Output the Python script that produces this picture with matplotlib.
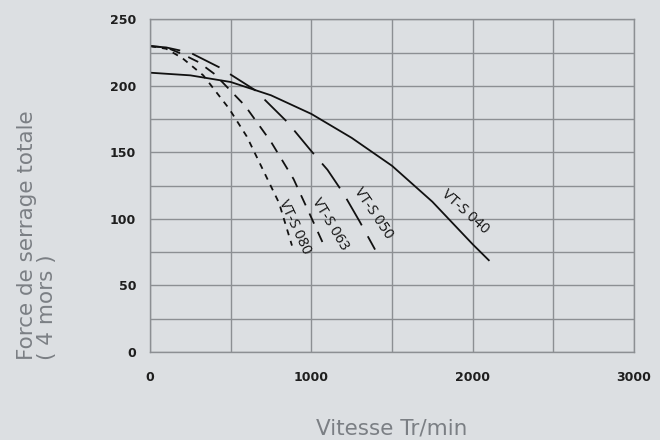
import matplotlib
matplotlib.use("Agg")
import matplotlib.pyplot as plt

# courbes (vitesse tr/min, force)
x_040 = [0, 250, 500, 750, 1000, 1250, 1500, 1750, 2000, 2100]
y_040 = [210, 208, 203, 193, 179, 161, 140, 113, 81, 69]

x_050 = [0, 100, 250, 430, 650, 850, 1000, 1100, 1200, 1300, 1395]
y_050 = [230, 229, 225, 214, 197, 173, 151, 137, 119, 98, 77]

x_063 = [0, 100, 200, 300, 400, 590, 750, 890, 1000, 1075]
y_063 = [230, 229, 224, 218, 209, 185, 158, 130, 101, 81]

x_080 = [0, 100, 200, 330, 490, 600, 760, 800, 880]
y_080 = [230, 228, 221, 208, 183, 162, 122, 112, 80]

labels = ["VT-S 040", "VT-S 050", "VT-S 063", "VT-S 080"]
label_pos = [(1951, 105), (1384, 104), (1117, 96), (895, 94)]
label_rot = [-42, -56, -59, -65]

bg = "#dcdfe2"
grid_col = "#8c8f93"
txt_col = "#7b7f84"

plt.rcParams["lines.scale_dashes"] = False

fig = plt.figure(figsize=(6.6, 4.4), dpi=100, facecolor=bg)
ax = fig.add_axes([0.2273, 0.2, 0.7333, 0.7557], facecolor=bg)

ax.plot(x_040, y_040, color="#111111", lw=1.3)
ax.plot(x_050, y_050, color="#111111", lw=1.3, linestyle=(0, (22, 9)))
ax.plot(x_063, y_063, color="#111111", lw=1.3, linestyle=(0, (8, 6.5)))
ax.plot(x_080, y_080, color="#111111", lw=1.3, linestyle=(0, (4.3, 4.3)))

for lab, (lx, ly), r in zip(labels, label_pos, label_rot):
    ax.text(lx, ly, lab, rotation=r, rotation_mode="anchor", ha="center", va="center",
            fontsize=10.5, family="Open Sans", color="#111111")

ax.set_xlim(0, 3000)
ax.set_ylim(0, 250)
ax.set_xticks(range(0, 3001, 500))
ax.set_xticklabels(["0", "", "1000", "", "2000", "", "3000"])
ax.set_yticks(range(0, 251, 25))
ax.set_yticklabels([str(v) if v % 50 == 0 else "" for v in range(0, 251, 25)])
ax.grid(True, color=grid_col, lw=1.0)
ax.set_axisbelow(True)
for s in ax.spines.values():
    s.set_color(grid_col)
    s.set_linewidth(1.0)
ax.tick_params(axis="both", length=0, labelsize=9, labelcolor="#1e1e1e")
ax.tick_params(axis="x", pad=14)
ax.tick_params(axis="y", pad=10)
for t in ax.get_xticklabels() + ax.get_yticklabels():
    t.set_fontweight("bold")

fig.text(0.056, 0.182, "Force de serrage totale\n( 4 mors )", rotation=90,
         ha="center", va="bottom", multialignment="left",
         fontsize=15.5, family="DejaVu Sans", color=txt_col, linespacing=1.0)
fig.text(0.594, 0.027, "Vitesse Tr/min", ha="center", va="center",
         fontsize=15.5, family="DejaVu Sans", color=txt_col)

fig.savefig("out.png", dpi=100, facecolor=bg)
